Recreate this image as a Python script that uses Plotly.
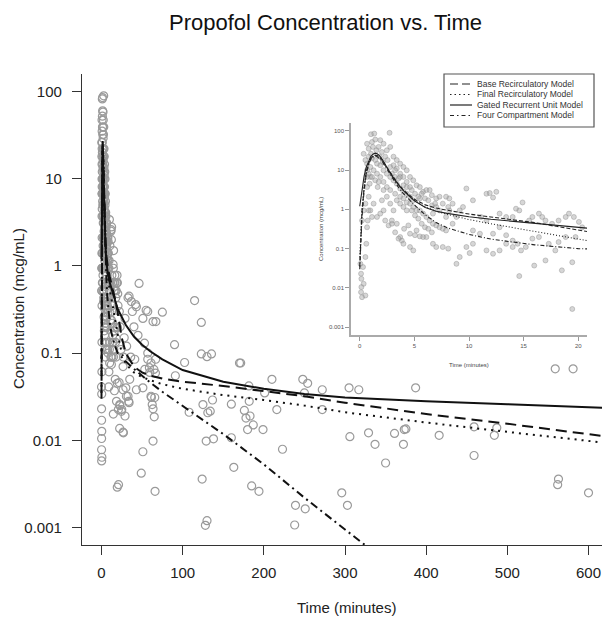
import plotly.graph_objects as go

# observed concentrations, first ~20 minutes (also drawn in the inset)
early_t = [0.06, 0.12, 0.15, 0.12, 0.21, 0.52, 0.36, 0.3, 0.52, 0.6, 0.67, 0.73, 0.82, 0.82, 0.91, 0.97,
           0.67, 0.52, 0.21, 0.36, 0.82, 0.67, 0.15,
           1.03, 1.33, 2.73, 1.42, 1.88, 0.67, 1.12, 2.18, 1.73, 2.48, 0.82, 0.36, 2.03, 2.79, 3.09, 3.39,
           3.7, 4.0, 4.3, 3.39, 2.79, 3.7, 4.6, 4.9, 4.3, 4.0, 5.2, 5.5, 5.8, 6.1, 6.4, 6.6, 7.0, 7.3, 7.9,
           8.2, 5.5, 4.9, 4.6, 3.7, 3.24, 2.79, 2.48, 2.18, 1.88, 1.58, 1.27, 0.97, 0.67, 0.52, 1.12, 1.42,
           1.58, 1.88, 2.18, 2.48, 2.79, 3.09, 3.39, 3.7, 4.0, 4.3, 4.6, 4.9, 5.2, 5.5, 5.8, 6.1, 6.4, 6.7,
           7.0, 7.3, 7.6, 7.9, 3.7, 4.0, 4.3, 2.18, 2.48, 2.79, 3.09, 3.39, 3.7, 3.85, 4.0, 4.6, 4.9, 4.6,
           5.06, 5.5, 5.8, 6.1, 6.7, 7.0, 7.6, 8.1, 8.85, 9.15, 10.06, 9.76, 10.36, 11.6, 11.9, 12.2, 12.5,
           11.1, 11.6, 12.8, 13.4, 14.0, 14.6, 14.3, 14.9, 15.5, 15.8, 16.4, 16.7, 17.0, 17.6, 18.2, 18.85,
           19.15, 19.6, 20.06, 20.36, 19.75, 18.85, 18.2, 17.9, 17.3, 16.4, 15.8, 15.2, 14.45, 14.0, 13.4,
           12.8, 12.2, 11.6, 10.36, 9.76, 14.0, 14.76, 15.97, 17.0, 18.5, 19.45, 14.6, 19.45, 13.4, 12.8,
           12.2, 11.0, 10.36, 8.5, 8.85, 9.15, 9.45, 8.2, 7.9, 8.5, 7.3, 6.7, 7.6, 8.1, 7.0,
           0.97, 1.12, 1.58, 1.88, 2.18, 1.27, 1.64, 2.03, 2.33, 2.64, 2.94, 3.24, 3.55, 2.94,
           1.03, 1.52, 1.82, 1.21, 2.33, 2.55, 2.12, 0.82, 0.67, 1.12, 1.42, 1.73, 2.94, 3.24, 3.55, 3.24,
           3.09, 3.7, 4.0, 4.3, 4.76, 5.06, 5.36, 4.6, 5.67, 5.97, 6.27, 6.6, 6.9, 3.39, 4.0, 4.3, 4.76,
           5.06, 5.36, 5.67, 5.97, 6.27, 6.6, 4.45, 4.06, 5.2]
early_c = [0.041, 0.023, 0.0105, 0.0078, 0.0058, 0.0064, 0.0127, 0.034, 0.061, 0.133, 0.35, 0.52, 0.94, 2.1, 4.5, 6.7,
           3.7, 1.4, 0.52, 0.94, 8.1, 6.7, 0.017,
           82, 85, 89, 60, 58, 47, 52, 47, 39, 32, 35, 26, 29, 39, 22, 18,
           14.6, 12, 9.9, 11, 12, 8.1, 6.7, 5.5, 5.0, 4.1, 4.1, 3.7, 2.8, 3.1, 3.1, 2.3, 1.9, 2.1, 2.1,
           1.9, 1.9, 1.7, 2.1, 2.1, 2.5, 3.1, 3.7, 5.0, 6.7, 8.1, 9.9, 12, 14.6, 18, 20, 18,
           14.6, 13.3, 9.9, 8.1, 6.7, 5.5, 4.5, 3.4, 2.8, 2.5, 1.4, 1.15, 0.94, 0.94, 0.78, 0.64, 0.52, 0.43,
           0.39, 0.35, 0.32, 0.29, 1.4, 1.15, 0.94, 3.1, 2.1, 1.4, 0.94, 0.43, 0.197, 0.16, 0.133, 0.11, 0.09, 0.24,
           0.22, 0.205, 0.197, 0.197, 0.133, 0.11, 0.11, 0.1, 0.041, 0.061, 0.077, 3.4, 1.7, 2.5, 2.6, 2.0, 2.8,
           0.64, 0.52, 0.78, 0.64, 0.64, 0.94, 1.04, 1.5, 0.52, 0.64, 0.78, 0.64, 0.52, 0.43, 0.52, 0.64,
           0.78, 0.64, 0.48, 0.35, 0.197, 0.197, 0.147, 0.09, 0.133, 0.197, 0.18, 0.11, 0.133, 0.16, 0.133,
           0.09, 0.074, 0.09, 0.133, 0.11, 0.11, 0.09, 0.037, 0.05, 0.028, 0.045, 0.02, 0.0029, 0.22, 0.35,
           0.24, 0.24, 0.29, 0.43, 0.64, 0.94, 1.15, 0.94, 0.64, 1.4, 0.94, 0.78, 1.4, 1.15, 1.15,
           0.94, 0.64, 0.64, 0.78, 0.94, 1.4, 3.7, 1.7, 0.52, 0.39, 0.43, 0.26, 0.18, 0.52,
           26, 32, 22, 39, 22, 18, 16, 22, 9.9, 6.7, 5.5, 5.0, 8.1, 6.7, 6.1, 9.9,
           13.3, 6.7, 6.7, 3.7, 3.1, 2.5, 2.1, 3.7, 2.5, 1.9, 1.7, 1.26, 1.4, 1.7, 1.9, 1.5, 0.94,
           0.7, 0.58, 0.43, 0.35, 0.32, 0.26, 0.39, 0.32, 0.29]

# observed concentrations after 20 minutes
late_t = [21, 22.4, 27, 20.8, 22.5, 25, 33.5, 29, 34, 24.6, 26.6, 30, 34.8, 43, 51, 61, 62.5, 65, 63.5,
          59.5, 66.5, 64.6, 45, 53, 57, 61, 46.3, 34, 36.8, 55, 57, 75, 38, 42, 51, 63.5, 67, 90, 114.7,
          123, 102.4, 123, 135.5, 130, 170, 171.5, 210, 248, 254, 250, 181.6, 91, 125, 134, 131, 136.8,
          160, 176, 178, 183, 180, 187, 199, 216, 108, 223, 160, 129, 138, 163, 124, 185, 194, 130, 128,
          239, 251, 238, 51, 49, 66, 63.5, 61.5, 65.6, 41, 57, 66.8, 59, 53.3, 26.6, 21.7, 26.6, 30.7,
          32.7, 22.5, 201, 182, 272, 305, 317, 387, 272, 306, 329, 337, 350, 361, 373, 375, 372, 416,
          459, 459, 484, 487, 559, 581, 563, 562, 600, 296, 303, 43, 32.7,
          23, 28, 24, 31, 36, 27, 22, 29, 40]
late_c = [0.0031, 0.0137, 0.0122, 0.0225, 0.0257, 0.0225, 0.028, 0.019, 0.027, 0.0215, 0.0124, 0.04, 0.05,
          0.038, 0.04, 0.032, 0.0257, 0.0186, 0.023, 0.06, 0.059, 0.065, 0.16, 0.13, 0.1, 0.077, 0.63,
          0.45, 0.39, 0.31, 0.30, 0.295, 0.30, 0.36, 0.25, 0.23, 0.23, 0.125, 0.4, 0.225, 0.078, 0.098,
          0.098, 0.091, 0.077, 0.077, 0.05, 0.05, 0.045, 0.035, 0.042, 0.055, 0.0257, 0.0216, 0.0207,
          0.029, 0.026, 0.022, 0.018, 0.019, 0.0133, 0.015, 0.0133, 0.0225, 0.021, 0.0079, 0.0107,
          0.0098, 0.0104, 0.0049, 0.0036, 0.003, 0.0026, 0.0012, 0.00106, 0.0018, 0.00164, 0.00107,
          0.0074, 0.0042, 0.0026, 0.0098, 0.031, 0.031, 0.085, 0.085, 0.085, 0.068, 0.065, 0.07, 0.046,
          0.038, 0.032, 0.032, 0.025, 0.035, 0.028, 0.038, 0.04, 0.038, 0.04, 0.0225, 0.011, 0.0122,
          0.009, 0.0055, 0.012, 0.0133, 0.0135, 0.009, 0.0114, 0.0143, 0.0067, 0.0114, 0.0139, 0.066,
          0.066, 0.0036, 0.0031, 0.0025, 0.0025, 0.0018, 0.34, 0.43,
          0.2, 0.15, 0.11, 0.12, 0.09, 0.09, 0.3, 0.25, 0.2]

# model predictions
curve_t = [0, 0.1, 0.2, 0.4, 0.6, 0.8, 1.0, 1.2, 1.4, 1.6, 1.8, 2.0, 2.5, 3.0, 3.5, 4.0, 4.5, 5, 6, 7, 8,
           10, 12, 14, 16, 18, 20, 25, 30, 40, 50, 60, 75, 100, 150, 200, 250, 300, 400, 500, 624]
base_recirc = [0.035, 0.2, 0.8, 3.5, 9, 14.5, 19.5, 22.5, 24, 23.5, 21.5, 19, 11.5, 7, 4.5, 3.1, 2.3, 1.8,
               1.3, 1.08, 0.95, 0.76, 0.64, 0.55, 0.46, 0.37, 0.29, 0.15, 0.1, 0.07, 0.06, 0.055, 0.051,
               0.047, 0.042, 0.037, 0.032, 0.027, 0.02, 0.0155, 0.011]
final_recirc = [0.06, 0.3, 1.0, 4, 9.5, 15, 19.5, 22, 23, 22.5, 20.5, 18, 11, 6.8, 4.4, 3.0, 2.2, 1.7,
                1.15, 0.9, 0.75, 0.55, 0.43, 0.34, 0.27, 0.21, 0.165, 0.1, 0.075, 0.06, 0.053, 0.049,
                0.044, 0.039, 0.033, 0.029, 0.025, 0.021, 0.016, 0.0125, 0.0093]
gru = [1.2, 2.0, 3.2, 7, 12, 17, 22, 25.5, 27, 26, 23.5, 20, 11.5, 6.8, 4.4, 3.0, 2.2, 1.65, 1.12, 0.9,
       0.79, 0.65, 0.56, 0.49, 0.43, 0.37, 0.32, 0.26, 0.21, 0.155, 0.125, 0.105, 0.085, 0.064, 0.047,
       0.039, 0.034, 0.031, 0.028, 0.026, 0.0235]
four_comp = [0.03, 0.15, 0.6, 3, 8, 13.5, 18.5, 21.5, 22.5, 22, 20, 17.5, 10.5, 6.2, 3.8, 2.5, 1.75, 1.3,
             0.72, 0.46, 0.34, 0.23, 0.175, 0.145, 0.125, 0.112, 0.1, 0.09, 0.08, 0.066, 0.055, 0.046,
             0.036, 0.025, 0.0118, 0.0053, 0.0022, 0.00095, 0.00018, 0.00003, 0.000004]

model_names = ["Base Recirculatory Model", "Final Recirculatory Model",
               "Gated Recurrent Unit Model", "Four Compartment Model"]
model_values = [base_recirc, final_recirc, gru, four_comp]
dash_main = ["11px,6px", "2px,5px", "solid", "8px,4px,2px,4px"]
dash_inset = ["4px,2px", "1px,2px", "solid", "4px,2px,1px,2px"]
dash_key = ["8px,4px", "1.5px,3px", "solid", "4px,3px,1.5px,3px"]

W, H = 610, 619
OFF = 8  # the page body adds an 8px margin around the plot div
FONT = "Liberation Sans, Arial, sans-serif"


def px(x):
    return (x - OFF) / W


def py(y):
    return 1 - (y - OFF) / H


fig = go.Figure()

# main panel
fig.add_trace(go.Scatter(
    x=early_t + late_t, y=early_c + late_c, mode="markers", showlegend=False,
    marker=dict(symbol="circle-open", size=8, color="#9a9a9a", line=dict(width=1.2)),
    xaxis="x", yaxis="y",
))
for name, vals, dash in zip(model_names, model_values, dash_main):
    fig.add_trace(go.Scatter(
        x=curve_t, y=vals, mode="lines", name=name, showlegend=False,
        line=dict(color="#111", width=2, dash=dash),
        xaxis="x", yaxis="y",
    ))

# inset panel
fig.add_trace(go.Scatter(
    x=early_t, y=early_c, mode="markers", showlegend=False,
    marker=dict(symbol="circle", size=5, color="rgba(165,165,165,0.45)",
                line=dict(color="rgba(140,140,140,0.7)", width=0.6)),
    xaxis="x2", yaxis="y2",
))
for name, vals, dash in zip(model_names, model_values, dash_inset):
    fig.add_trace(go.Scatter(
        x=curve_t, y=vals, mode="lines", name=name, showlegend=False,
        line=dict(color="#222", width=1.1, dash=dash),
        xaxis="x2", yaxis="y2",
    ))

logticks = [0.001, 0.01, 0.1, 1, 10, 100]
logtext = ["0.001", "0.01", "0.1", "1", "10", "100"]

axis_main = dict(showline=True, linecolor="#333", linewidth=1.3, ticks="outside", ticklen=9,
                 tickwidth=1.3, tickcolor="#333", showgrid=False, zeroline=False,
                 tickfont=dict(family=FONT, size=15, color="#222"), automargin=False)
axis_inset = dict(showline=True, linecolor="#aaa", linewidth=1.5, ticks="outside", ticklen=4,
                  tickwidth=1, tickcolor="#999", showgrid=False, zeroline=False,
                  tickfont=dict(family=FONT, size=6, color="#555"), automargin=False)

# hand-drawn key (plotly's legend rows cannot be this tight)
key_shapes = [dict(type="rect", xref="paper", yref="paper", x0=px(444), x1=px(594), y0=py(127), y1=py(74),
                   line=dict(color="#555", width=1.2), fillcolor="white", layer="above")]
key_notes = []
key_rows = [84, 94.5, 105, 115.5]
for name, dash, yrow in zip(model_names, dash_key, key_rows):
    key_shapes.append(dict(type="line", xref="paper", yref="paper", x0=px(450), x1=px(472),
                           y0=py(yrow), y1=py(yrow), line=dict(color="#222", width=1.2, dash=dash),
                           layer="above"))
    key_notes.append(dict(text=name, x=px(476), y=py(yrow), xref="paper", yref="paper",
                          xanchor="left", yanchor="middle", showarrow=False, borderpad=0,
                          font=dict(family=FONT, size=8.5, color="#333")))

fig.update_layout(
    width=W, height=H,
    margin=dict(l=0, r=0, t=0, b=0),
    paper_bgcolor="white", plot_bgcolor="white",
    showlegend=False,
    xaxis=dict(axis_main, domain=[px(82), px(608)], range=[-24, 624], ticklabelstandoff=5,
               tickvals=[0, 100, 200, 300, 400, 500, 600], anchor="y"),
    yaxis=dict(axis_main, domain=[py(545), py(74)], type="log", range=[-3.2, 2.2], ticklabelstandoff=7,
               tickvals=logticks, ticktext=logtext, anchor="x"),
    xaxis2=dict(axis_inset, domain=[px(351), px(587)], range=[-0.8, 20.8],
                tickvals=[0, 5, 10, 15, 20], anchor="y2"),
    yaxis2=dict(axis_inset, domain=[py(335), py(123)], type="log", range=[-3.2, 2.2],
                tickvals=logticks, ticktext=logtext, anchor="x2"),
    shapes=key_shapes,
    annotations=[
        dict(text="Propofol Concentration vs. Time", x=px(325), y=py(23), xref="paper", yref="paper",
             xanchor="center", yanchor="middle", showarrow=False,
             font=dict(family=FONT, size=22, color="#111")),
        dict(text="Time (minutes)", x=px(346), y=py(607), xref="paper", yref="paper",
             xanchor="center", yanchor="middle", showarrow=False,
             font=dict(family=FONT, size=15, color="#222")),
        dict(text="Concentration (mcg/mL)", x=px(18), y=py(309), xref="paper", yref="paper",
             xanchor="center", yanchor="middle", showarrow=False, textangle=-90,
             font=dict(family=FONT, size=15, color="#222")),
        dict(text="Time (minutes)", x=px(469), y=py(365), xref="paper", yref="paper",
             xanchor="center", yanchor="middle", showarrow=False,
             font=dict(family=FONT, size=6, color="#444")),
        dict(text="Concentration (mcg/mL)", x=px(321), y=py(229), xref="paper", yref="paper",
             xanchor="center", yanchor="middle", showarrow=False, textangle=-90,
             font=dict(family=FONT, size=6, color="#444")),
    ] + key_notes,
)

fig.write_html("out.html")
